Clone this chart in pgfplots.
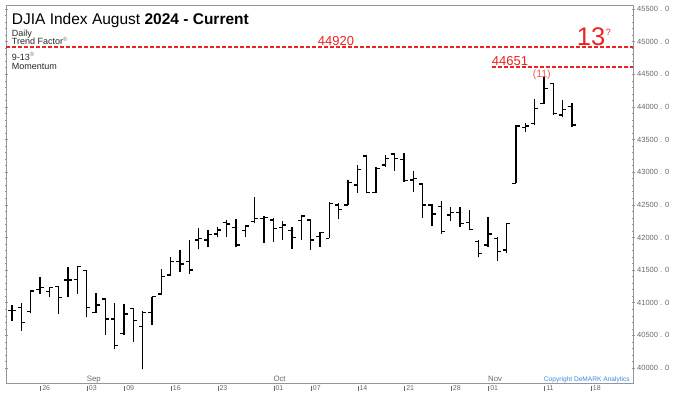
\documentclass[border=0pt]{standalone}
\usepackage{fontspec}
\setmainfont{Liberation Sans}
\usepackage{pgfplots}
\usepackage{pgfplotstable}
\pgfplotsset{compat=1.18}
\definecolor{dred}{RGB}{235,35,35}
\definecolor{axgray}{RGB}{150,150,150}
\definecolor{lblgray}{RGB}{105,105,105}
\definecolor{cpblue}{RGB}{55,135,225}

% trading-day index (0 = 26 Aug 2024), open, high, low, close
\pgfplotstableread{
i o h l c
-3 40878 40965 40725 40878
-2 40929 41001 40572 40700
-1 40863 41195 40837 41180
0 41205 41399 41134 41231
1 41169 41246 41093 41236
2 41246 41246 40827 41077
3 41348 41552 41083 41348
4 41358 41563 41134 41552
5 41491 41491 40776 40929
6 40853 41154 40837 40965
7 41057 41067 40505 40751
8 40751 40991 40286 40342
9 40531 40980 40505 40827
10 40914 40914 40403 40725
11 40633 40878 39979 40848
12 40848 41093 40659 41093
13 41134 41512 41118 41399
14 41425 41706 41425 41629
15 41629 41808 41476 41593
16 41629 41961 41440 41501
17 41961 42140 41818 41986
18 41961 42114 41849 42048
19 42053 42155 42002 42114
20 42226 42267 42012 42206
21 42155 42283 41849 41884
22 42104 42191 42012 42175
23 42242 42615 42216 42293
24 42293 42329 41920 42308
25 42267 42303 41935 42140
26 42155 42252 41961 42191
27 42104 42165 41823 42002
28 42257 42344 41961 42329
29 42267 42277 41808 41961
30 42012 42089 41859 42073
31 41986 42548 41986 42523
32 42497 42523 42277 42431
33 42497 42880 42497 42845
34 42804 43110 42686 43044
35 43248 43263 42686 42686
36 42686 43074 42676 43059
37 43110 43263 43084 43212
38 43279 43299 43023 43212
39 43197 43289 42855 42870
40 42880 43023 42701 42906
41 42819 42829 42293 42497
42 42497 42513 42176 42360
43 42472 42564 42053 42089
44 42344 42472 42257 42380
45 42380 42472 42166 42217
46 42227 42421 42114 42125
47 41936 41961 41696 41757
48 41885 42308 41859 42053
49 41987 42002 41645 41783
50 41808 42227 41757 42217
51 42829 43723 42829 43708
52 43682 43749 43621 43708
53 43749 44116 43723 43978
54 44055 44464 44045 44285
55 44362 44372 43876 43902
56 43876 44106 43841 43963
57 44004 44055 43698 43723
}\djia

\newcommand{\tk}[1]{\rule{0.5pt}{5pt}\hspace{1.6pt}#1}

\begin{document}
\begin{tikzpicture}
\begin{axis}[
  at={(0,0)}, anchor=south west,
  scale only axis, width=627pt, height=378pt,
  xmin=-3.64, xmax=63.54, ymin=39770, ymax=45561,
  axis line style={axgray, line width=0.6pt},
  xtick={0,5,9,14,19,25,29,34,39,44,48,54,59},
  xticklabels={\tk{26},\tk{03},\tk{09},\tk{16},\tk{23},\tk{01},\tk{07},\tk{14},\tk{21},\tk{28},\tk{01},\tk{11},\tk{18}},
  xtick pos=bottom,
  major x tick style={draw=none},
  xticklabel style={anchor=north west, inner sep=0pt, yshift=-1pt, font=\fontsize{7}{8}\selectfont, text=lblgray},
  ytick={40000,40500,...,45500},
  yticklabels={40000 . 0,40500 . 0,41000 . 0,41500 . 0,42000 . 0,42500 . 0,43000 . 0,43500 . 0,44000 . 0,44500 . 0,45000 . 0,45500 . 0},
  ytick pos=both,
  yticklabel pos=right,
  minor y tick num=4,
  tick align=center,
  major tick length=3pt, minor tick length=2pt,
  every tick/.style={axgray, line width=0.5pt},
  yticklabel style={anchor=west, inner sep=0pt, xshift=2.5pt, font=\fontsize{7.5}{8}\selectfont, text=lblgray},
  clip=false,
]
% high-low lines
\addplot[forget plot, black, line width=1.6pt, no markers,
  quiver={u=0, v=\thisrow{h}-\thisrow{l}}]
  table[x=i, y=l] {\djia};
% open ticks
\addplot[forget plot, black, line width=1.5pt, no markers,
  quiver={u=-0.4, v=0}]
  table[x=i, y=o] {\djia};
% close ticks
\addplot[forget plot, black, line width=1.5pt, no markers,
  quiver={u=0.4, v=0}]
  table[x=i, y=c] {\djia};
% month labels
\node[anchor=base west, inner sep=0pt, font=\fontsize{7.8}{8}\selectfont, text=lblgray] at (axis cs:5,39770) [yshift=1.2pt] {Sep};
\node[anchor=base west, inner sep=0pt, font=\fontsize{7.8}{8}\selectfont, text=lblgray] at (axis cs:25,39770) [yshift=1.2pt] {Oct};
\node[anchor=base west, inner sep=0pt, font=\fontsize{7.8}{8}\selectfont, text=lblgray] at (axis cs:48,39770) [yshift=1.2pt] {Nov};
\end{axis}
% red levels in an overlaid axis of the same size and limits
\begin{axis}[
  at={(0,0)}, anchor=south west,
  scale only axis, width=627pt, height=378pt,
  xmin=-3.64, xmax=63.54, ymin=39770, ymax=45561,
  hide axis, clip=false,
]
\addplot[color=dred, draw=dred, dash pattern=on 4pt off 2pt, line width=1.6pt, mark=none] coordinates {(-3.64,44917) (63.54,44917)};
\addplot[color=dred, draw=dred, dash pattern=on 4pt off 2pt, line width=1.6pt, mark=none] coordinates {(48.4,44611) (63.54,44611)};
\end{axis}
% texts
\node[anchor=base west, inner sep=0pt, font=\fontsize{15.5}{17}\selectfont] at (5.7pt,359pt) {DJIA Index August \textbf{2024 - Current}};
\node[anchor=base west, inner sep=0pt, font=\fontsize{9}{10}\selectfont, text=black!85] at (5.7pt,346.5pt) {Daily};
\node[anchor=base west, inner sep=0pt, font=\fontsize{9}{10}\selectfont, text=black!85] at (5.7pt,338pt) {Trend Factor\textsuperscript{\textcolor{gray}{®}}};
\node[anchor=base west, inner sep=0pt, font=\fontsize{9}{10}\selectfont, text=black!85] at (5.7pt,323pt) {9-13\textsuperscript{\textcolor{gray}{®}}};
\node[anchor=base west, inner sep=0pt, font=\fontsize{9}{10}\selectfont, text=black!85] at (5.7pt,313.5pt) {Momentum};
\node[anchor=base, inner sep=0pt, font=\fontsize{13}{14}\selectfont, text=dred] at (330pt,337.6pt) {44920};
\node[anchor=base west, inner sep=0pt, font=\fontsize{13}{14}\selectfont, text=dred] at (485.7pt,318pt) {44651};
\node[anchor=base west, inner sep=0pt, font=\fontsize{25.5}{27}\selectfont, text=dred] at (570.7pt,337.6pt) {13};
\node[anchor=base west, inner sep=0pt, font=\fontsize{9}{10}\selectfont, text=dred] at (599.7pt,347.5pt) {?};
\node[anchor=base, inner sep=0pt, font=\fontsize{10.5}{11}\selectfont, text=dred!75] at (535.7pt,306pt) {(11)};
\node[anchor=base east, inner sep=0pt, font=\fontsize{6.6}{7}\selectfont, text=cpblue] at (624pt,1.8pt) {Copyright DeMARK Analytics};
\pgfresetboundingbox
\path (-6pt,-9pt) rectangle (675pt,383pt);
\end{tikzpicture}
\end{document}
